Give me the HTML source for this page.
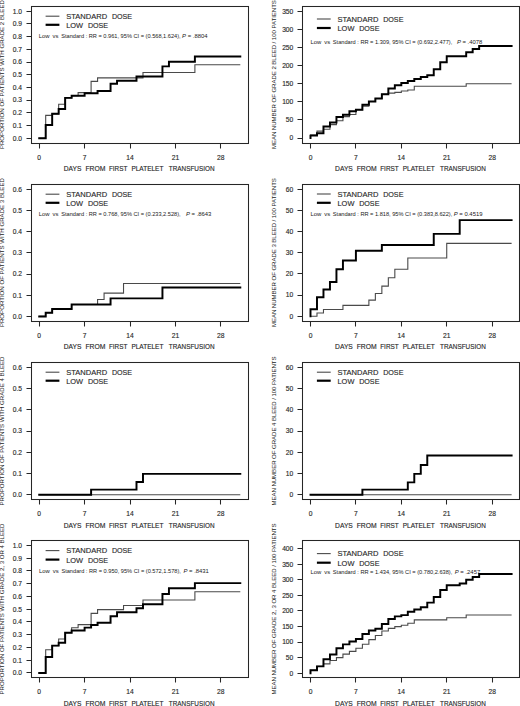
<!DOCTYPE html>
<html><head><meta charset="utf-8"><style>
html,body{margin:0;padding:0;background:#fff;}
body{width:520px;height:706px;overflow:hidden;}
svg{display:block;}
text{font-family:"Liberation Sans", sans-serif;fill:#1a1a1a;}
.tl,.xt,.lg{stroke:#444;stroke-width:0.15px;}
.tl{font-size:6.7px;}
.xt{font-size:7.1px;}
.yt{font-size:6.1px;}
.lg{font-size:7.8px;}
.an{font-size:5.9px;}
</style></head><body>
<svg width="520" height="706" viewBox="0 0 520 706">
<rect width="520" height="706" fill="#fff"/>
<g><rect x="31.5" y="6.5" width="217" height="137" fill="none" stroke="#262626" stroke-width="1.05"/><path d="M26.5 138.5H31.5M26.5 125.5H31.5M26.5 112.5H31.5M26.5 100.5H31.5M26.5 87.5H31.5M26.5 74.5H31.5M26.5 62.5H31.5M26.5 49.5H31.5M26.5 36.5H31.5M26.5 23.5H31.5M26.5 11.5H31.5M39.5 143.5V148.5M84.5 143.5V148.5M130.5 143.5V148.5M175.5 143.5V148.5M220.5 143.5V148.5" stroke="#262626" stroke-width="1.05" fill="none"/><text x="22" y="140.55" text-anchor="end" class="tl">0.0</text><text x="22" y="127.86" text-anchor="end" class="tl">0.1</text><text x="22" y="115.17" text-anchor="end" class="tl">0.2</text><text x="22" y="102.48" text-anchor="end" class="tl">0.3</text><text x="22" y="89.79" text-anchor="end" class="tl">0.4</text><text x="22" y="77.1" text-anchor="end" class="tl">0.5</text><text x="22" y="64.41" text-anchor="end" class="tl">0.6</text><text x="22" y="51.72" text-anchor="end" class="tl">0.7</text><text x="22" y="39.03" text-anchor="end" class="tl">0.8</text><text x="22" y="26.34" text-anchor="end" class="tl">0.9</text><text x="22" y="13.65" text-anchor="end" class="tl">1.0</text><text x="39.2" y="159.8" text-anchor="middle" class="tl">0</text><text x="84.61" y="159.8" text-anchor="middle" class="tl">7</text><text x="130.02" y="159.8" text-anchor="middle" class="tl">14</text><text x="175.43" y="159.8" text-anchor="middle" class="tl">21</text><text x="220.84" y="159.8" text-anchor="middle" class="tl">28</text><text y="171.2" class="xt"><tspan x="63.8" textLength="17.7" lengthAdjust="spacingAndGlyphs">DAYS</tspan><tspan x="85.4" textLength="20" lengthAdjust="spacingAndGlyphs">FROM</tspan><tspan x="108.9" textLength="18.5" lengthAdjust="spacingAndGlyphs">FIRST</tspan><tspan x="131.4" textLength="32" lengthAdjust="spacingAndGlyphs">PLATELET</tspan><tspan x="168.8" textLength="45.7" lengthAdjust="spacingAndGlyphs">TRANSFUSION</tspan></text><text transform="translate(3.9 74.6) rotate(-90)" x="-74.5" y="0" class="yt" textLength="149" lengthAdjust="spacing">PROPORTION OF PATIENTS WITH GRADE 2 BLEED</text><path d="M45.6 16.2H59.4" stroke="#4a4a4a" stroke-width="1.1"/><path d="M45.6 24.8H59.4" stroke="#000" stroke-width="2.2"/><text y="18.9" class="lg"><tspan x="66.2" textLength="40.9" lengthAdjust="spacingAndGlyphs">STANDARD</tspan><tspan x="111.9" textLength="20.2" lengthAdjust="spacingAndGlyphs">DOSE</tspan></text><text y="27.9" class="lg"><tspan x="66.2" textLength="16.9" lengthAdjust="spacingAndGlyphs">LOW</tspan><tspan x="87.9" textLength="20.2" lengthAdjust="spacingAndGlyphs">DOSE</tspan></text><text y="38.1" class="an"><tspan x="38.8">Low</tspan><tspan x="52.6">vs</tspan><tspan x="61.2" textLength="119.5" lengthAdjust="spacingAndGlyphs">Standard : RR = 0.961, 95% CI = (0.568,1.624),</tspan><tspan x="182.1" font-style="italic">P</tspan><tspan> = .8804</tspan></text><path d="M39.2 138.2V138.2H45.69V115.36H52.17V113.84H58.66V104.19H65.15V97.85H71.64V95.82H78.12V92.64H91.1V81.35H97.58V77.92H142.99V72.47H194.89V64.72H240.3" stroke="#4a4a4a" stroke-width="1.1" fill="none"/><path d="M39.2 138.2V138.2H45.69V125H52.17V113.84H58.66V109.01H65.15V97.85H71.64V95.82H84.61V93.15H97.58V90.99H110.56V83.76H117.04V80.71H136.5V76.53H162.45V66.37H168.94V61.68H194.89V56.48H240.3" stroke="#000" stroke-width="1.95" fill="none" stroke-linejoin="miter" stroke-linecap="square"/></g>
<g><rect x="302.5" y="6.5" width="217" height="137" fill="none" stroke="#262626" stroke-width="1.05"/><path d="M297.5 138.5H302.5M297.5 119.5H302.5M297.5 101.5H302.5M297.5 83.5H302.5M297.5 65.5H302.5M297.5 47.5H302.5M297.5 29.5H302.5M297.5 11.5H302.5M310.5 143.5V148.5M355.5 143.5V148.5M401.5 143.5V148.5M446.5 143.5V148.5M492.5 143.5V148.5" stroke="#262626" stroke-width="1.05" fill="none"/><text x="293.3" y="140.35" text-anchor="end" class="tl">0</text><text x="293.3" y="122.25" text-anchor="end" class="tl">50</text><text x="293.3" y="104.15" text-anchor="end" class="tl">100</text><text x="293.3" y="86.05" text-anchor="end" class="tl">150</text><text x="293.3" y="67.95" text-anchor="end" class="tl">200</text><text x="293.3" y="49.85" text-anchor="end" class="tl">250</text><text x="293.3" y="31.75" text-anchor="end" class="tl">300</text><text x="293.3" y="13.65" text-anchor="end" class="tl">350</text><text x="310.5" y="159.8" text-anchor="middle" class="tl">0</text><text x="355.91" y="159.8" text-anchor="middle" class="tl">7</text><text x="401.32" y="159.8" text-anchor="middle" class="tl">14</text><text x="446.73" y="159.8" text-anchor="middle" class="tl">21</text><text x="492.14" y="159.8" text-anchor="middle" class="tl">28</text><text y="171.2" class="xt"><tspan x="335.1" textLength="17.7" lengthAdjust="spacingAndGlyphs">DAYS</tspan><tspan x="356.7" textLength="20" lengthAdjust="spacingAndGlyphs">FROM</tspan><tspan x="380.2" textLength="18.5" lengthAdjust="spacingAndGlyphs">FIRST</tspan><tspan x="402.7" textLength="32" lengthAdjust="spacingAndGlyphs">PLATELET</tspan><tspan x="440.1" textLength="45.7" lengthAdjust="spacingAndGlyphs">TRANSFUSION</tspan></text><text transform="translate(276.3 74.6) rotate(-90)" x="-74.5" y="0" class="yt" textLength="149" lengthAdjust="spacing">MEAN NUMBER OF GRADE 2 BLEED / 100 PATIENTS</text><path d="M316.9 19H330.7" stroke="#4a4a4a" stroke-width="1.1"/><path d="M316.9 28H330.7" stroke="#000" stroke-width="2.2"/><text y="21.7" class="lg"><tspan x="337.5" textLength="40.9" lengthAdjust="spacingAndGlyphs">STANDARD</tspan><tspan x="383.2" textLength="20.2" lengthAdjust="spacingAndGlyphs">DOSE</tspan></text><text y="31.1" class="lg"><tspan x="337.5" textLength="16.9" lengthAdjust="spacingAndGlyphs">LOW</tspan><tspan x="359.2" textLength="20.2" lengthAdjust="spacingAndGlyphs">DOSE</tspan></text><text y="43.7" class="an"><tspan x="310.4">Low</tspan><tspan x="324.2">vs</tspan><tspan x="332.8" textLength="119.5" lengthAdjust="spacingAndGlyphs">Standard : RR = 1.309, 95% CI = (0.692,2.477),</tspan><tspan x="456.9" font-style="italic">P</tspan><tspan> = .4078</tspan></text><path d="M310.5 138V134.92H316.99V131.12H323.47V129.31H329.96V124.61H336.45V120.81H342.94V116.64H349.42V114.47H355.91V109.76H362.4V106.14H368.88V101.55H375.37V98.54H381.86V94.34H388.34V93.11H394.83V92.39H401.32V90.94H407.81V90.03H414.29V86.23H466.19V83.7H511.6" stroke="#4a4a4a" stroke-width="1.1" fill="none"/><path d="M310.5 138V135.61H316.99V133.29H323.47V126.52H329.96V122.43H336.45V117H342.94V114.83H349.42V111.21H355.91V109.76H362.4V104.7H368.88V101.55H375.37V98.54H381.86V94.34H388.34V88.51H394.83V85.15H401.32V82.98H407.81V80.98H414.29V78.99H420.78V76.97H427.27V75.16H433.75V69.22H440.24V62.34H446.73V56.26H466.19V52.21H472.68V48.95H479.16V46.05H511.6" stroke="#000" stroke-width="1.95" fill="none" stroke-linejoin="miter" stroke-linecap="square"/></g>
<g><rect x="31.5" y="184.5" width="217" height="137" fill="none" stroke="#262626" stroke-width="1.05"/><path d="M26.5 316.5H31.5M26.5 295.5H31.5M26.5 274.5H31.5M26.5 252.5H31.5M26.5 231.5H31.5M26.5 210.5H31.5M26.5 189.5H31.5M39.5 321.5V326.5M84.5 321.5V326.5M130.5 321.5V326.5M175.5 321.5V326.5M220.5 321.5V326.5" stroke="#262626" stroke-width="1.05" fill="none"/><text x="22" y="318.75" text-anchor="end" class="tl">0.0</text><text x="22" y="297.55" text-anchor="end" class="tl">0.1</text><text x="22" y="276.35" text-anchor="end" class="tl">0.2</text><text x="22" y="255.15" text-anchor="end" class="tl">0.3</text><text x="22" y="233.95" text-anchor="end" class="tl">0.4</text><text x="22" y="212.75" text-anchor="end" class="tl">0.5</text><text x="22" y="191.55" text-anchor="end" class="tl">0.6</text><text x="39.2" y="337.8" text-anchor="middle" class="tl">0</text><text x="84.61" y="337.8" text-anchor="middle" class="tl">7</text><text x="130.02" y="337.8" text-anchor="middle" class="tl">14</text><text x="175.43" y="337.8" text-anchor="middle" class="tl">21</text><text x="220.84" y="337.8" text-anchor="middle" class="tl">28</text><text y="349.2" class="xt"><tspan x="63.8" textLength="17.7" lengthAdjust="spacingAndGlyphs">DAYS</tspan><tspan x="85.4" textLength="20" lengthAdjust="spacingAndGlyphs">FROM</tspan><tspan x="108.9" textLength="18.5" lengthAdjust="spacingAndGlyphs">FIRST</tspan><tspan x="131.4" textLength="32" lengthAdjust="spacingAndGlyphs">PLATELET</tspan><tspan x="168.8" textLength="45.7" lengthAdjust="spacingAndGlyphs">TRANSFUSION</tspan></text><text transform="translate(3.9 252.6) rotate(-90)" x="-74.5" y="0" class="yt" textLength="149" lengthAdjust="spacing">PROPORTION OF PATIENTS WITH GRADE 3 BLEED</text><path d="M45.6 194.2H59.4" stroke="#4a4a4a" stroke-width="1.1"/><path d="M45.6 202.8H59.4" stroke="#000" stroke-width="2.2"/><text y="196.9" class="lg"><tspan x="66.2" textLength="40.9" lengthAdjust="spacingAndGlyphs">STANDARD</tspan><tspan x="111.9" textLength="20.2" lengthAdjust="spacingAndGlyphs">DOSE</tspan></text><text y="205.9" class="lg"><tspan x="66.2" textLength="16.9" lengthAdjust="spacingAndGlyphs">LOW</tspan><tspan x="87.9" textLength="20.2" lengthAdjust="spacingAndGlyphs">DOSE</tspan></text><text y="216.3" class="an"><tspan x="38.8">Low</tspan><tspan x="52.6">vs</tspan><tspan x="61.2" textLength="119.5" lengthAdjust="spacingAndGlyphs">Standard : RR = 0.768, 95% CI = (0.233,2.528),</tspan><tspan x="186" font-style="italic">P</tspan><tspan> = .8643</tspan></text><path d="M39.2 316.4V316.4H45.69V312.8H52.17V308.98H71.64V304.53H97.58V299.44H104.07V293.08H123.53V283.54H240.3" stroke="#4a4a4a" stroke-width="1.1" fill="none"/><path d="M39.2 316.4V316.4H45.69V312.8H52.17V308.98H71.64V304.53H110.56V298.38H162.45V287.57H240.3" stroke="#000" stroke-width="1.95" fill="none" stroke-linejoin="miter" stroke-linecap="square"/></g>
<g><rect x="302.5" y="184.5" width="217" height="137" fill="none" stroke="#262626" stroke-width="1.05"/><path d="M297.5 316.5H302.5M297.5 295.5H302.5M297.5 273.5H302.5M297.5 252.5H302.5M297.5 231.5H302.5M297.5 210.5H302.5M297.5 189.5H302.5M310.5 321.5V326.5M355.5 321.5V326.5M401.5 321.5V326.5M446.5 321.5V326.5M492.5 321.5V326.5" stroke="#262626" stroke-width="1.05" fill="none"/><text x="293.3" y="318.55" text-anchor="end" class="tl">0</text><text x="293.3" y="297.38" text-anchor="end" class="tl">10</text><text x="293.3" y="276.22" text-anchor="end" class="tl">20</text><text x="293.3" y="255.05" text-anchor="end" class="tl">30</text><text x="293.3" y="233.88" text-anchor="end" class="tl">40</text><text x="293.3" y="212.72" text-anchor="end" class="tl">50</text><text x="293.3" y="191.55" text-anchor="end" class="tl">60</text><text x="310.5" y="337.8" text-anchor="middle" class="tl">0</text><text x="355.91" y="337.8" text-anchor="middle" class="tl">7</text><text x="401.32" y="337.8" text-anchor="middle" class="tl">14</text><text x="446.73" y="337.8" text-anchor="middle" class="tl">21</text><text x="492.14" y="337.8" text-anchor="middle" class="tl">28</text><text y="349.2" class="xt"><tspan x="335.1" textLength="17.7" lengthAdjust="spacingAndGlyphs">DAYS</tspan><tspan x="356.7" textLength="20" lengthAdjust="spacingAndGlyphs">FROM</tspan><tspan x="380.2" textLength="18.5" lengthAdjust="spacingAndGlyphs">FIRST</tspan><tspan x="402.7" textLength="32" lengthAdjust="spacingAndGlyphs">PLATELET</tspan><tspan x="440.1" textLength="45.7" lengthAdjust="spacingAndGlyphs">TRANSFUSION</tspan></text><text transform="translate(276.3 252.6) rotate(-90)" x="-74.5" y="0" class="yt" textLength="149" lengthAdjust="spacing">MEAN NUMBER OF GRADE 3 BLEED / 100 PATIENTS</text><path d="M316.9 194H330.7" stroke="#4a4a4a" stroke-width="1.1"/><path d="M316.9 202.8H330.7" stroke="#000" stroke-width="2.2"/><text y="196.7" class="lg"><tspan x="337.5" textLength="40.9" lengthAdjust="spacingAndGlyphs">STANDARD</tspan><tspan x="383.2" textLength="20.2" lengthAdjust="spacingAndGlyphs">DOSE</tspan></text><text y="205.9" class="lg"><tspan x="337.5" textLength="16.9" lengthAdjust="spacingAndGlyphs">LOW</tspan><tspan x="359.2" textLength="20.2" lengthAdjust="spacingAndGlyphs">DOSE</tspan></text><text y="216.3" class="an"><tspan x="310.4">Low</tspan><tspan x="324.2">vs</tspan><tspan x="332.8" textLength="119.5" lengthAdjust="spacingAndGlyphs">Standard : RR = 1.818, 95% CI = (0.383,8.622),</tspan><tspan x="453.8" font-style="italic">P</tspan><tspan> = 0.4519</tspan></text><path d="M310.5 316.2V316.2H316.99V313.02H323.47V309.43H342.94V305.4H368.88V300.11H375.37V293.55H381.86V286.14H388.34V277.68H394.83V269.21H407.81V257.99H446.73V243.39H511.6" stroke="#4a4a4a" stroke-width="1.1" fill="none"/><path d="M310.5 316.2V309.21H316.99V297.15H323.47V289.53H329.96V281.91H336.45V269.21H342.94V260.53H355.91V250.79H381.86V245.08H433.75V233.86H459.7V220.1H511.6" stroke="#000" stroke-width="1.95" fill="none" stroke-linejoin="miter" stroke-linecap="square"/></g>
<g><rect x="31.5" y="362.5" width="217" height="137" fill="none" stroke="#262626" stroke-width="1.05"/><path d="M26.5 494.5H31.5M26.5 473.5H31.5M26.5 452.5H31.5M26.5 431.5H31.5M26.5 409.5H31.5M26.5 388.5H31.5M26.5 367.5H31.5M39.5 499.5V504.5M84.5 499.5V504.5M130.5 499.5V504.5M175.5 499.5V504.5M220.5 499.5V504.5" stroke="#262626" stroke-width="1.05" fill="none"/><text x="22" y="497.05" text-anchor="end" class="tl">0.0</text><text x="22" y="475.82" text-anchor="end" class="tl">0.1</text><text x="22" y="454.58" text-anchor="end" class="tl">0.2</text><text x="22" y="433.35" text-anchor="end" class="tl">0.3</text><text x="22" y="412.12" text-anchor="end" class="tl">0.4</text><text x="22" y="390.88" text-anchor="end" class="tl">0.5</text><text x="22" y="369.65" text-anchor="end" class="tl">0.6</text><text x="39.2" y="516.2" text-anchor="middle" class="tl">0</text><text x="84.61" y="516.2" text-anchor="middle" class="tl">7</text><text x="130.02" y="516.2" text-anchor="middle" class="tl">14</text><text x="175.43" y="516.2" text-anchor="middle" class="tl">21</text><text x="220.84" y="516.2" text-anchor="middle" class="tl">28</text><text y="527.6" class="xt"><tspan x="63.8" textLength="17.7" lengthAdjust="spacingAndGlyphs">DAYS</tspan><tspan x="85.4" textLength="20" lengthAdjust="spacingAndGlyphs">FROM</tspan><tspan x="108.9" textLength="18.5" lengthAdjust="spacingAndGlyphs">FIRST</tspan><tspan x="131.4" textLength="32" lengthAdjust="spacingAndGlyphs">PLATELET</tspan><tspan x="168.8" textLength="45.7" lengthAdjust="spacingAndGlyphs">TRANSFUSION</tspan></text><text transform="translate(3.9 431) rotate(-90)" x="-74.5" y="0" class="yt" textLength="149" lengthAdjust="spacing">PROPORTION OF PATIENTS WITH GRADE 4 BLEED</text><path d="M45.6 372.2H59.4" stroke="#4a4a4a" stroke-width="1.1"/><path d="M45.6 380.7H59.4" stroke="#000" stroke-width="2.2"/><text y="374.9" class="lg"><tspan x="66.2" textLength="40.9" lengthAdjust="spacingAndGlyphs">STANDARD</tspan><tspan x="111.9" textLength="20.2" lengthAdjust="spacingAndGlyphs">DOSE</tspan></text><text y="383.8" class="lg"><tspan x="66.2" textLength="16.9" lengthAdjust="spacingAndGlyphs">LOW</tspan><tspan x="87.9" textLength="20.2" lengthAdjust="spacingAndGlyphs">DOSE</tspan></text><path d="M39.2 494.7V494.7H240.3" stroke="#4a4a4a" stroke-width="1.1" fill="none"/><path d="M39.2 494.7V494.7H91.1V489.6H136.5V481.96H142.99V473.89H240.3" stroke="#000" stroke-width="1.95" fill="none" stroke-linejoin="miter" stroke-linecap="square"/></g>
<g><rect x="302.5" y="362.5" width="217" height="137" fill="none" stroke="#262626" stroke-width="1.05"/><path d="M297.5 494.5H302.5M297.5 473.5H302.5M297.5 452.5H302.5M297.5 431.5H302.5M297.5 409.5H302.5M297.5 388.5H302.5M297.5 367.5H302.5M310.5 499.5V504.5M355.5 499.5V504.5M401.5 499.5V504.5M446.5 499.5V504.5M492.5 499.5V504.5" stroke="#262626" stroke-width="1.05" fill="none"/><text x="293.3" y="497.05" text-anchor="end" class="tl">0</text><text x="293.3" y="475.82" text-anchor="end" class="tl">10</text><text x="293.3" y="454.58" text-anchor="end" class="tl">20</text><text x="293.3" y="433.35" text-anchor="end" class="tl">30</text><text x="293.3" y="412.12" text-anchor="end" class="tl">40</text><text x="293.3" y="390.88" text-anchor="end" class="tl">50</text><text x="293.3" y="369.65" text-anchor="end" class="tl">60</text><text x="310.5" y="516.2" text-anchor="middle" class="tl">0</text><text x="355.91" y="516.2" text-anchor="middle" class="tl">7</text><text x="401.32" y="516.2" text-anchor="middle" class="tl">14</text><text x="446.73" y="516.2" text-anchor="middle" class="tl">21</text><text x="492.14" y="516.2" text-anchor="middle" class="tl">28</text><text y="527.6" class="xt"><tspan x="335.1" textLength="17.7" lengthAdjust="spacingAndGlyphs">DAYS</tspan><tspan x="356.7" textLength="20" lengthAdjust="spacingAndGlyphs">FROM</tspan><tspan x="380.2" textLength="18.5" lengthAdjust="spacingAndGlyphs">FIRST</tspan><tspan x="402.7" textLength="32" lengthAdjust="spacingAndGlyphs">PLATELET</tspan><tspan x="440.1" textLength="45.7" lengthAdjust="spacingAndGlyphs">TRANSFUSION</tspan></text><text transform="translate(276.3 431) rotate(-90)" x="-74.5" y="0" class="yt" textLength="149" lengthAdjust="spacing">MEAN NUMBER OF GRADE 4 BLEED / 100 PATIENTS</text><path d="M316.9 372.2H330.7" stroke="#4a4a4a" stroke-width="1.1"/><path d="M316.9 380.7H330.7" stroke="#000" stroke-width="2.2"/><text y="374.9" class="lg"><tspan x="337.5" textLength="40.9" lengthAdjust="spacingAndGlyphs">STANDARD</tspan><tspan x="383.2" textLength="20.2" lengthAdjust="spacingAndGlyphs">DOSE</tspan></text><text y="383.8" class="lg"><tspan x="337.5" textLength="16.9" lengthAdjust="spacingAndGlyphs">LOW</tspan><tspan x="359.2" textLength="20.2" lengthAdjust="spacingAndGlyphs">DOSE</tspan></text><path d="M310.5 494.7V494.7H511.6" stroke="#4a4a4a" stroke-width="1.1" fill="none"/><path d="M310.5 494.7V494.7H362.4V489.6H407.81V482.38H414.29V473.89H420.78V464.97H427.27V455.42H511.6" stroke="#000" stroke-width="1.95" fill="none" stroke-linejoin="miter" stroke-linecap="square"/></g>
<g><rect x="31.5" y="540.5" width="217" height="137" fill="none" stroke="#262626" stroke-width="1.05"/><path d="M26.5 672.5H31.5M26.5 660.5H31.5M26.5 647.5H31.5M26.5 634.5H31.5M26.5 621.5H31.5M26.5 609.5H31.5M26.5 596.5H31.5M26.5 583.5H31.5M26.5 570.5H31.5M26.5 558.5H31.5M26.5 545.5H31.5M39.5 677.5V682.5M84.5 677.5V682.5M130.5 677.5V682.5M175.5 677.5V682.5M220.5 677.5V682.5" stroke="#262626" stroke-width="1.05" fill="none"/><text x="22" y="675.25" text-anchor="end" class="tl">0.0</text><text x="22" y="662.5" text-anchor="end" class="tl">0.1</text><text x="22" y="649.75" text-anchor="end" class="tl">0.2</text><text x="22" y="637" text-anchor="end" class="tl">0.3</text><text x="22" y="624.25" text-anchor="end" class="tl">0.4</text><text x="22" y="611.5" text-anchor="end" class="tl">0.5</text><text x="22" y="598.75" text-anchor="end" class="tl">0.6</text><text x="22" y="586" text-anchor="end" class="tl">0.7</text><text x="22" y="573.25" text-anchor="end" class="tl">0.8</text><text x="22" y="560.5" text-anchor="end" class="tl">0.9</text><text x="22" y="547.75" text-anchor="end" class="tl">1.0</text><text x="39.2" y="694.2" text-anchor="middle" class="tl">0</text><text x="84.61" y="694.2" text-anchor="middle" class="tl">7</text><text x="130.02" y="694.2" text-anchor="middle" class="tl">14</text><text x="175.43" y="694.2" text-anchor="middle" class="tl">21</text><text x="220.84" y="694.2" text-anchor="middle" class="tl">28</text><text y="705.6" class="xt"><tspan x="63.8" textLength="17.7" lengthAdjust="spacingAndGlyphs">DAYS</tspan><tspan x="85.4" textLength="20" lengthAdjust="spacingAndGlyphs">FROM</tspan><tspan x="108.9" textLength="18.5" lengthAdjust="spacingAndGlyphs">FIRST</tspan><tspan x="131.4" textLength="32" lengthAdjust="spacingAndGlyphs">PLATELET</tspan><tspan x="168.8" textLength="45.7" lengthAdjust="spacingAndGlyphs">TRANSFUSION</tspan></text><text transform="translate(3.9 609) rotate(-90)" x="-85.5" y="0" class="yt" textLength="171" lengthAdjust="spacing">PROPORTION OF PATIENTS WITH GRADE 2, 3 OR 4 BLEED</text><path d="M45.6 550.6H59.4" stroke="#4a4a4a" stroke-width="1.1"/><path d="M45.6 559.6H59.4" stroke="#000" stroke-width="2.2"/><text y="553.3" class="lg"><tspan x="66.2" textLength="40.9" lengthAdjust="spacingAndGlyphs">STANDARD</tspan><tspan x="111.9" textLength="20.2" lengthAdjust="spacingAndGlyphs">DOSE</tspan></text><text y="562.7" class="lg"><tspan x="66.2" textLength="16.9" lengthAdjust="spacingAndGlyphs">LOW</tspan><tspan x="87.9" textLength="20.2" lengthAdjust="spacingAndGlyphs">DOSE</tspan></text><text y="572.5" class="an"><tspan x="39">Low</tspan><tspan x="52.8">vs</tspan><tspan x="61.4" textLength="119.5" lengthAdjust="spacingAndGlyphs">Standard : RR = 0.950, 95% CI = (0.572,1.578),</tspan><tspan x="183.5" font-style="italic">P</tspan><tspan> = .8431</tspan></text><path d="M39.2 672.9V672.9H45.69V649.82H52.17V645.62H58.66V638.99H65.15V632.74H71.64V627.76H78.12V624.58H91.1V613.36H97.58V609.66H123.53V605.45H142.99V599.97H194.89V591.68H240.3" stroke="#4a4a4a" stroke-width="1.1" fill="none"/><path d="M39.2 672.9V672.9H45.69V656.96H52.17V645.62H58.66V642.81H65.15V632.74H71.64V630.57H84.61V627.64H91.1V625.09H97.58V622.66H110.56V616.16H117.04V612.34H136.5V608.26H142.99V604.18H162.45V593.98H168.94V588.24H194.89V583.14H240.3" stroke="#000" stroke-width="1.95" fill="none" stroke-linejoin="miter" stroke-linecap="square"/></g>
<g><rect x="302.5" y="540.5" width="217" height="137" fill="none" stroke="#262626" stroke-width="1.05"/><path d="M297.5 673.5H302.5M297.5 657.5H302.5M297.5 642.5H302.5M297.5 626.5H302.5M297.5 610.5H302.5M297.5 595.5H302.5M297.5 579.5H302.5M297.5 564.5H302.5M297.5 548.5H302.5M310.5 677.5V682.5M355.5 677.5V682.5M401.5 677.5V682.5M446.5 677.5V682.5M492.5 677.5V682.5" stroke="#262626" stroke-width="1.05" fill="none"/><text x="293.3" y="675.55" text-anchor="end" class="tl">0</text><text x="293.3" y="659.98" text-anchor="end" class="tl">50</text><text x="293.3" y="644.4" text-anchor="end" class="tl">100</text><text x="293.3" y="628.83" text-anchor="end" class="tl">150</text><text x="293.3" y="613.25" text-anchor="end" class="tl">200</text><text x="293.3" y="597.68" text-anchor="end" class="tl">250</text><text x="293.3" y="582.1" text-anchor="end" class="tl">300</text><text x="293.3" y="566.53" text-anchor="end" class="tl">350</text><text x="293.3" y="550.95" text-anchor="end" class="tl">400</text><text x="310.5" y="694.2" text-anchor="middle" class="tl">0</text><text x="355.91" y="694.2" text-anchor="middle" class="tl">7</text><text x="401.32" y="694.2" text-anchor="middle" class="tl">14</text><text x="446.73" y="694.2" text-anchor="middle" class="tl">21</text><text x="492.14" y="694.2" text-anchor="middle" class="tl">28</text><text y="705.6" class="xt"><tspan x="335.1" textLength="17.7" lengthAdjust="spacingAndGlyphs">DAYS</tspan><tspan x="356.7" textLength="20" lengthAdjust="spacingAndGlyphs">FROM</tspan><tspan x="380.2" textLength="18.5" lengthAdjust="spacingAndGlyphs">FIRST</tspan><tspan x="402.7" textLength="32" lengthAdjust="spacingAndGlyphs">PLATELET</tspan><tspan x="440.1" textLength="45.7" lengthAdjust="spacingAndGlyphs">TRANSFUSION</tspan></text><text transform="translate(276.3 609) rotate(-90)" x="-85.5" y="0" class="yt" textLength="171" lengthAdjust="spacing">MEAN NUMBER OF GRADE 2, 3 OR 4 BLEED / 100 PATIENTS</text><path d="M316.9 553.6H330.7" stroke="#4a4a4a" stroke-width="1.1"/><path d="M316.9 562.7H330.7" stroke="#000" stroke-width="2.2"/><text y="556.3" class="lg"><tspan x="337.5" textLength="40.9" lengthAdjust="spacingAndGlyphs">STANDARD</tspan><tspan x="383.2" textLength="20.2" lengthAdjust="spacingAndGlyphs">DOSE</tspan></text><text y="565.8" class="lg"><tspan x="337.5" textLength="16.9" lengthAdjust="spacingAndGlyphs">LOW</tspan><tspan x="359.2" textLength="20.2" lengthAdjust="spacingAndGlyphs">DOSE</tspan></text><text y="573.9" class="an"><tspan x="310.4">Low</tspan><tspan x="324.2">vs</tspan><tspan x="332.8" textLength="119.5" lengthAdjust="spacingAndGlyphs">Standard : RR = 1.434, 95% CI = (0.780,2.638),</tspan><tspan x="454.8" font-style="italic">P</tspan><tspan> = .2457</tspan></text><path d="M310.5 673.2V670.3H316.99V666.35H323.47V663.92H329.96V660.52H336.45V657.62H342.94V654.14H349.42V651.33H355.91V648.28H362.4V644.23H368.88V639.65H375.37V635.57H381.86V630.96H388.34V628.38H394.83V626.66H401.32V625.29H407.81V623.27H414.29V619.87H446.73V617.69H466.19V614.98H511.6" stroke="#4a4a4a" stroke-width="1.1" fill="none"/><path d="M310.5 673.2V670.3H316.99V666.35H323.47V659.31H329.96V654.51H336.45V648.16H342.94V644.36H349.42V641.43H355.91V639.09H362.4V633.95H368.88V630.52H375.37V628.66H381.86V623.98H388.34V619.09H394.83V616.38H401.32V615.11H407.81V611.71H414.29V609.4H420.78V607.16H427.27V602.61H433.75V596.98H440.24V589.94H446.73V585.23H459.7V583.49H466.19V579.75H472.68V577.04H479.16V573.96H511.6" stroke="#000" stroke-width="1.95" fill="none" stroke-linejoin="miter" stroke-linecap="square"/></g>
</svg>
</body></html>
